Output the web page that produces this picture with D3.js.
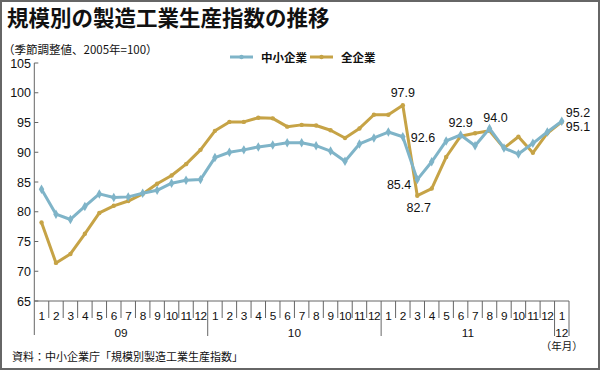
<!DOCTYPE html>
<html>
<head>
<meta charset="utf-8">
<script src="https://cdn.jsdelivr.net/npm/d3@7"></script>
<style>
  body { margin: 0; background: #fff; }
  svg text { font-family: "Liberation Sans", Arial, sans-serif; fill: #111; }
  svg .jp { font-family: "Noto Sans CJK JP", sans-serif; }
</style>
</head>
<body>
<script>
// 2009年1月〜2012年1月 (37か月)
const monthLabels = ['1','2','3','4','5','6','7','8','9','10','11','12',
                     '1','2','3','4','5','6','7','8','9','10','11','12',
                     '1','2','3','4','5','6','7','8','9','10','11','12',
                     '1']
const yearLabels = [
  {label: '09', start: 0, end: 12},
  {label: '10', start: 12, end: 24},
  {label: '11', start: 24, end: 36},
  {label: '12', start: 36, end: 37}
]
const yTicks = [65, 70, 75, 80, 85, 90, 95, 100, 105]

const smallBiz = [83.8, 79.6, 78.7, 80.9, 83.0, 82.4, 82.5, 83.1, 83.6, 84.8, 85.3, 85.4,
                  89.1, 90.0, 90.4, 90.9, 91.2, 91.6, 91.6, 91.1, 90.2, 88.5, 91.4, 92.4,
                  93.4, 92.6, 85.4, 88.4, 91.9, 92.9, 91.1, 94.0, 90.7, 89.7, 91.5, 93.4,
                  95.2]
const allBiz = [78.2, 71.4, 72.9, 76.3, 79.8, 81.0, 81.8, 83.0, 84.7, 86.1, 88.0, 90.4,
                93.6, 95.1, 95.1, 95.8, 95.7, 94.3, 94.6, 94.5, 93.7, 92.4, 94.0, 96.3,
                96.3, 97.9, 82.7, 83.9, 89.2, 92.7, 93.2, 93.6, 90.7, 92.6, 89.9, 93.2,
                95.1]

// 数値ラベル: series, month index, placement
const notes = [
  {s: 'all', i: 25, pos: 'above'},
  {s: 'small', i: 25, pos: 'right'},
  {s: 'small', i: 26, pos: 'left'},
  {s: 'all', i: 26, pos: 'below'},
  {s: 'small', i: 29, pos: 'above'},
  {s: 'small', i: 31, pos: 'aboveR'},
  {s: 'small', i: 36, pos: 'rightUp'},
  {s: 'all', i: 36, pos: 'rightDown'}
]

const colors = {small: '#7fb4c8', all: '#c6a346'}
const seriesData = {small: smallBiz, all: allBiz}

const W = 600, H = 371
const svg = d3.select('body').append('svg')
  .attr('width', W).attr('height', H)

svg.append('rect')
  .attr('x', 1).attr('y', 1).attr('width', W - 2).attr('height', H - 3)
  .attr('fill', '#fff').attr('stroke', '#666').attr('stroke-width', 2)

const x = d3.scaleLinear().domain([0, 37]).range([34.3, 569])
const y = d3.scaleLinear().domain([65, 105]).range([301, 63])
const px = i => x(i + 0.5)

// title
svg.append('text').attr('class', 'jp')
  .attr('x', 7).attr('y', 26)
  .attr('font-size', 21.5).attr('font-weight', 'bold')
  .text('規模別の製造工業生産指数の推移')

svg.append('text').attr('class', 'jp')
  .attr('x', 3).attr('y', 54)
  .attr('font-size', 11.5)
  .text('（季節調整値、2005年=100）')

// y axis
const yAxis = svg.append('g')
svg.append('line')
  .attr('x1', 34.3).attr('x2', 34.3).attr('y1', y(105)).attr('y2', 335)
  .attr('stroke', '#666').attr('stroke-width', 1)
yAxis.selectAll('line').data(yTicks).join('line')
  .attr('x1', 34.3).attr('x2', 38.3)
  .attr('y1', d => y(d)).attr('y2', d => y(d))
  .attr('stroke', '#666')
yAxis.selectAll('text').data(yTicks).join('text')
  .attr('x', 31).attr('y', d => y(d) + 4.5)
  .attr('text-anchor', 'end').attr('font-size', 12.5)
  .text(d => d)

// x axis
svg.append('line')
  .attr('x1', 34.3).attr('x2', x(37)).attr('y1', y(65)).attr('y2', y(65))
  .attr('stroke', '#666')
const xg = svg.append('g')
xg.selectAll('line.m').data(d3.range(1, 38)).join('line')
  .attr('class', 'm')
  .attr('x1', d => x(d)).attr('x2', d => x(d))
  .attr('y1', y(65))
  .attr('y2', d => (d % 12 === 0 || d === 37) ? 336 : 318)
  .attr('stroke', '#666')
xg.selectAll('text.m').data(monthLabels).join('text')
  .attr('class', 'm')
  .attr('x', (d, i) => px(i)).attr('y', 320)
  .attr('text-anchor', 'middle').attr('font-size', 11.8)
  .attr('letter-spacing', -0.6)
  .text(d => d)
xg.selectAll('text.yr').data(yearLabels).join('text')
  .attr('class', 'yr')
  .attr('x', d => x((d.start + d.end) / 2)).attr('y', 336.5)
  .attr('text-anchor', 'middle').attr('font-size', 11.8)
  .text(d => d.label)
svg.append('text').attr('class', 'jp')
  .attr('x', x(36.5)).attr('y', 350)
  .attr('text-anchor', 'middle').attr('font-size', 10.5)
  .text('（年月）')

// lines
const line = d3.line().x((d, i) => px(i)).y(d => y(d))
;['all', 'small'].forEach(k => {
  const g = svg.append('g')
  g.append('path').datum(seriesData[k])
    .attr('d', line).attr('fill', 'none')
    .attr('stroke', colors[k]).attr('stroke-width', 3)
    .attr('stroke-linejoin', 'round')
  if (k === 'small') {
    g.selectAll('path.mk').data(seriesData[k]).join('path')
      .attr('class', 'mk')
      .attr('d', d3.symbol(d3.symbolDiamond, 26))
      .attr('transform', (d, i) => `translate(${px(i)},${y(d)})`)
      .attr('fill', colors[k])
  } else {
    g.selectAll('circle').data(seriesData[k]).join('circle')
      .attr('cx', (d, i) => px(i)).attr('cy', d => y(d)).attr('r', 2.2)
      .attr('fill', colors[k])
  }
})

// value labels
const place = {
  above:     {dx: 0,   dy: -8,  a: 'middle'},
  aboveR:    {dx: 6,   dy: -6,  a: 'middle'},
  right:     {dx: 8,   dy: 5,   a: 'start'},
  left:      {dx: -6,  dy: 9,   a: 'end'},
  below:     {dx: 1.5, dy: 16,  a: 'middle'},
  rightUp:   {dx: 4,   dy: -4,  a: 'start'},
  rightDown: {dx: 4,   dy: 9,   a: 'start'}
}
const fmt = d3.format('.1f')
svg.append('g').selectAll('text').data(notes).join('text')
  .attr('x', d => px(d.i) + place[d.pos].dx)
  .attr('y', d => y(seriesData[d.s][d.i]) + place[d.pos].dy)
  .attr('text-anchor', d => place[d.pos].a)
  .attr('font-size', 12.5)
  .text(d => fmt(seriesData[d.s][d.i]))

// legend
const legend = [{k: 'small', name: '中小企業', x0: 230}, {k: 'all', name: '全企業', x0: 310}]
const lg = svg.append('g').selectAll('g').data(legend).join('g')
lg.append('line')
  .attr('x1', d => d.x0).attr('x2', d => d.x0 + 23)
  .attr('y1', 57).attr('y2', 57)
  .attr('stroke', d => colors[d.k]).attr('stroke-width', 3)
lg.append('circle')
  .attr('cx', d => d.x0 + 11.5).attr('cy', 57).attr('r', 2.2)
  .attr('fill', d => colors[d.k])
lg.append('text').attr('class', 'jp')
  .attr('x', d => d.x0 + 31).attr('y', 61.5)
  .attr('font-size', 11.5).attr('font-weight', 'bold')
  .text(d => d.name)

// source
svg.append('text').attr('class', 'jp')
  .attr('x', 12).attr('y', 361)
  .attr('font-size', 11)
  .text('資料：中小企業庁「規模別製造工業生産指数」')
</script>
</body>
</html>
